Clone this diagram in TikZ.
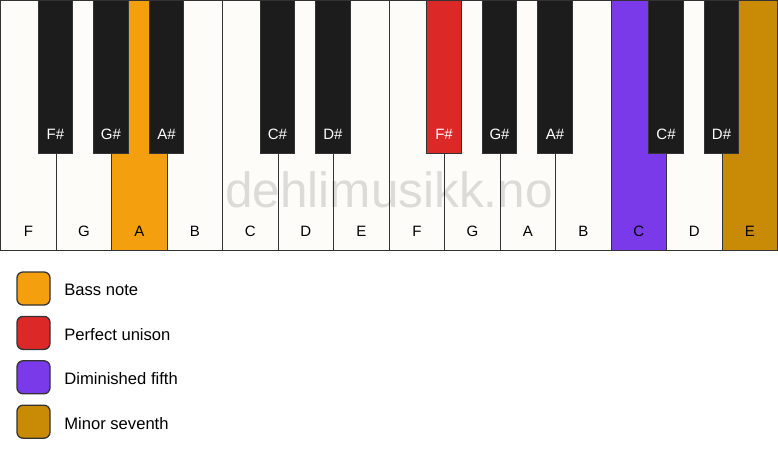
\documentclass[tikz,border=0pt]{standalone}
\usepackage{fontspec}
\setmainfont{Liberation Sans}
\usetikzlibrary{positioning}
\definecolor{keywhite}{HTML}{FDFCF9}
\definecolor{keyblack}{HTML}{1C1C1C}
\definecolor{keyline}{HTML}{333333}
\definecolor{bassnote}{HTML}{F39F0E}
\definecolor{unison}{HTML}{DD2828}
\definecolor{dimfifth}{HTML}{7B3AEA}
\definecolor{minseventh}{HTML}{C98A05}
\tikzset{
  whitekey/.style = {rectangle, draw=keyline, line width=1.3pt, anchor=north west,
    minimum width=55.5pt, minimum height=250pt, inner sep=0pt},
  blackkey/.style = {rectangle, draw=keyline, fill=keyblack, line width=1pt, anchor=north,
    minimum width=34.5pt, minimum height=153pt, inner sep=0pt},
  keylabel/.style = {font=\fontsize{15}{18}\selectfont, inner sep=0pt},
  legendbox/.style = {rectangle, rounded corners=6pt, draw=keyline, line width=1.3pt,
    minimum width=33pt, minimum height=33pt, inner sep=0pt},
  legendtext/.style = {font=\fontsize{16.6}{19}\selectfont, inner sep=0pt, anchor=west}
}
\begin{document}
\begin{tikzpicture}[x=1pt, y=-1pt]
  \useasboundingbox (0,0) rectangle (778,461);
  % white keys
  \foreach \n/\c [count=\i] in {F/keywhite, G/keywhite, A/bassnote, B/keywhite, C/keywhite,
      D/keywhite, E/keywhite, F/keywhite, G/keywhite, A/keywhite, B/keywhite,
      C/dimfifth, D/keywhite, E/minseventh}
    {
      \node[whitekey, fill=\c] (w\i) at ({(\i-1)*55.5}, 0) {};
      \node[keylabel, above=14.5pt of w\i.south] {\n};
    }
  \node[anchor=base, font=\fontsize{49.5}{52}\selectfont, text=black, text opacity=0.13]
    (mark) at (389, 207) {dehlimusikk.no};
  % black keys
  \foreach \k/\n/\c in {1/F\#/keyblack, 2/G\#/keyblack, 3/A\#/keyblack, 5/C\#/keyblack,
      6/D\#/keyblack, 8/F\#/unison, 9/G\#/keyblack, 10/A\#/keyblack,
      12/C\#/keyblack, 13/D\#/keyblack}
    {
      \node[blackkey, fill=\c] (b\k) at ({\k*55.5}, 0) {};
      \node[keylabel, text=white, above=14.5pt of b\k.south] {\n};
    }
  % legend
  \foreach \c/\t [count=\i] in {bassnote/Bass note, unison/Perfect unison,
      dimfifth/Diminished fifth, minseventh/Minor seventh}
    {
      \node[legendbox, fill=\c] (l\i) at (33.5, {288.5+(\i-1)*44.4}) {};
      \node[legendtext, right=13.5pt of l\i, yshift=-1.5pt] {\t};
    }
\end{tikzpicture}
\end{document}
